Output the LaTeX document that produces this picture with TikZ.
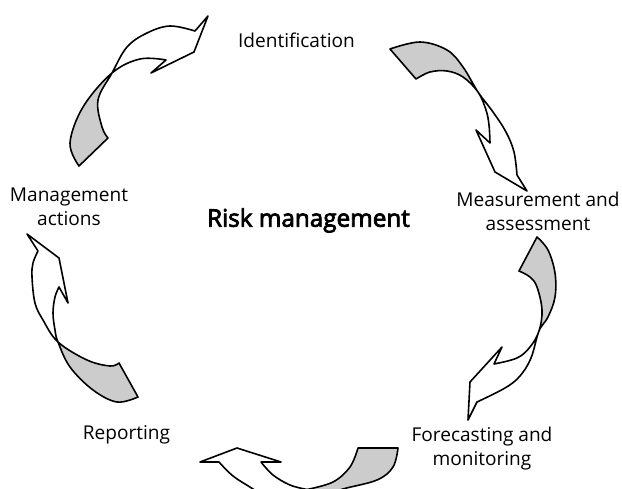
\documentclass[tikz,border=0pt]{standalone}
\usepackage{fontspec}
\setmainfont{Open Sans}
\newfontfamily\rstitlefont{Open Sans}[FakeBold=3.2]
\definecolor{ribbongrey}{RGB}{204,204,204}
\tikzset{
  ribbon/.style={draw=black, line width=1.2pt, line join=round},
  lbl/.style={font=\fontsize{14.3}{18}\selectfont, text=black, inner sep=0pt, anchor=base},
  titlelbl/.style={font=\rstitlefont\fontsize{18.2}{20}\selectfont, text=black, inner sep=0pt, anchor=base},
}
\begin{document}
\begin{tikzpicture}[x=0.75pt,y=-0.75pt]
\useasboundingbox (0,0) rectangle (622,489);
\clip (0,0) rectangle (622,489);

% arrow 1 : Management actions -> Identification
\draw[ribbon, path picture={\fill[ribbongrey] (188,138) -- (36,8) -- (-61.5,122) -- (90.5,252) -- cycle;}]
  plot[smooth,tension=0.6] coordinates {(79,166) (70,143) (83,107) (112,73) (140,59) (166,60)}
  -- (151,73) -- (194,52) -- (208,16)
  -- plot[smooth,tension=0.6] coordinates {(195,31) (170,26) (147,33) (127,47) (112,73) (98,100) (102,127) (108,138)}
  -- cycle;

% arrow 2 : Identification -> Measurement
\draw[ribbon, path picture={\fill[ribbongrey] (602.5,8) -- (353.5,176) -- (241.5,10) -- (490.5,-158) -- cycle;}]
  plot[smooth,tension=0.6] coordinates {(390,49) (420,42) (447,50) (463,67) (478,92) (493,112) (506,132) (514,152) (517,175)}
  -- (527,191) -- (495,172) -- (476,130)
  -- plot[smooth,tension=0.6] coordinates {(490,143) (489,125) (486,110) (478,92) (463,77) (447,71) (430,72) (416,79)}
  -- cycle;

% arrow 3 : Measurement -> Forecasting
\draw[ribbon, path picture={\fill[ribbongrey] (680,383.5) -- (398,278.5) -- (468,90.5) -- (750,195.5) -- cycle;}]
  plot[smooth,tension=0.6] coordinates {(537,237) (548,250) (555,273) (555,297) (548,317) (539,331) (531,358) (520,376) (505,388) (477,402)}
  -- (468,420) -- (470,382) -- (502,347)
  -- plot[smooth,tension=0.6] coordinates {(494,364) (517,358) (530,347) (539,331) (542,310) (537,287) (530,277) (519,271)}
  -- cycle;

% arrow 4 : Forecasting -> Reporting
\draw[ribbon]
  (219,462) -- (200,462) -- (237,448) -- (281,462)
  -- plot[smooth,tension=0.6] coordinates {(261,462) (273,475) (290,485) (307,489.5)}
  -- (307,520) -- (285,520)
  -- plot[smooth,tension=0.6] coordinates {(285,510) (253,489) (233,476) (219,462)}
  -- cycle;
\draw[ribbon, fill=ribbongrey]
  plot[smooth,tension=0.6] coordinates {(307,489.5) (333,482) (350,467) (358,448)}
  -- plot[smooth,tension=0.6] coordinates {(398,448) (393,467) (377,480) (343,489) (320,497)}
  -- (307,520) -- cycle;

% arrow 5 : Reporting -> Management actions
\draw[ribbon, path picture={\fill[ribbongrey] (170.5,243) -- (-54.5,441) -- (77.5,591) -- (302.5,393) -- cycle;}]
  plot[smooth,tension=0.6] coordinates {(38,251) (33,263) (32,277) (35,303) (43,320) (58,342) (87,360) (110,366) (119,363)}
  -- plot[smooth,tension=0.6] coordinates {(138,397) (117,402) (93,390) (70,367) (58,342) (55,330) (53,313) (55,297) (59,287)}
  -- (68,303) -- (59,258) -- (27,234)
  -- cycle;

% labels
\node[lbl] (ident) at (296.5,47) {Identification};
\node[lbl] (meas) at (538,206.7) {\begin{tabular}[t]{@{}c@{}}Measurement and\\ assessment\end{tabular}};
\node[lbl] (fore) at (482,441.7) {\begin{tabular}[t]{@{}c@{}}Forecasting and\\ monitoring\end{tabular}};
\node[lbl] (report) at (126.5,439) {Reporting};
\node[lbl] (mgmt) at (69,201.7) {\begin{tabular}[t]{@{}c@{}}Management\\ actions\end{tabular}};
\node[titlelbl] (risk) at (308.5,226.7) {Risk management};
\end{tikzpicture}
\end{document}
